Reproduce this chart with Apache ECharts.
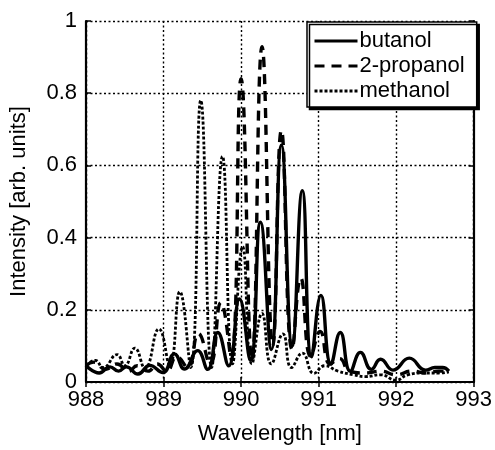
<!DOCTYPE html>
<html><head><meta charset="utf-8">
<script src="https://cdn.jsdelivr.net/npm/echarts@6/dist/echarts.min.js"></script>
<style>html,body{margin:0;padding:0;background:#fff}#c{width:495px;height:450px}</style>
</head><body><div id="c"></div>
<script>
const seriesNames = ['butanol', '2-propanol', 'methanol'];
const xTicks = [988, 989, 990, 991, 992, 993];
const yTicks = [0, 0.2, 0.4, 0.6, 0.8, 1];

const butanol = [
 [988.0,0.046],[988.17,0.025],[988.31,0.042],[988.42,0.03],[988.52,0.042],[988.67,0.022],
 [988.82,0.046],[988.99,0.026],[989.14,0.078],[989.27,0.036],[989.44,0.087],[989.57,0.035],
 [989.70,0.137],[989.84,0.045],[989.98,0.23],[990.12,0.06],[990.25,0.443],[990.39,0.09],
 [990.52,0.656],[990.66,0.10],[990.79,0.53],[990.91,0.07],[991.03,0.24],[991.16,0.05],
 [991.28,0.137],[991.41,0.03],[991.54,0.082],[991.68,0.035],[991.80,0.063],[991.96,0.033],
 [992.17,0.066],[992.38,0.033],[992.5,0.04],[992.6,0.04],[992.68,0.03]
];
const propanol = [
 [988.0,0.045],[988.1,0.055],[988.25,0.035],[988.4,0.05],[988.55,0.03],[988.66,0.045],
 [988.8,0.03],[988.92,0.05],[989.04,0.03],[989.17,0.07],[989.31,0.04],[989.45,0.134],
 [989.6,0.05],[989.74,0.22],[989.87,0.07],[990.0,0.84],[990.14,0.06],[990.27,0.929],
 [990.41,0.10],[990.52,0.697],[990.66,0.09],[990.77,0.288],[990.9,0.07],[991.02,0.14],
 [991.15,0.05],[991.27,0.065],[991.4,0.03],[991.6,0.025],[991.8,0.03],[992.0,0.02],
 [992.2,0.03],[992.4,0.025],[992.55,0.03],[992.68,0.03]
];
const methanol = [
 [988.0,0.046],[988.12,0.06],[988.22,0.04],[988.4,0.076],[988.5,0.045],[988.63,0.094],
 [988.76,0.038],[988.94,0.147],[989.08,0.046],[989.21,0.25],[989.35,0.04],[989.48,0.78],
 [989.62,0.04],[989.76,0.625],[989.89,0.05],[990.02,0.375],[990.14,0.05],[990.27,0.19],
 [990.39,0.05],[990.54,0.133],[990.65,0.04],[990.79,0.08],[990.94,0.024],[991.08,0.045],
 [991.25,0.03],[991.45,0.02],[991.6,0.015],[991.8,0.02],[992.0,0.005],[992.15,0.02],
 [992.35,0.025],[992.55,0.025],[992.68,0.028]
];

const font = '"Liberation Sans", Arial, sans-serif';
const chart = echarts.init(document.getElementById('c'), null, {renderer:'canvas'});
const gridSplit = {show:true, lineStyle:{color:'#000', type:[2,2.5], width:1.4}};
chart.setOption({
  animation:false,
  backgroundColor:'#fff',
  grid:{left:82, right:20, top:21, bottom:63},
  legend:{
    orient:'vertical', left:307, top:22, width:168,
    data:seriesNames,
    itemWidth:43, itemHeight:18, itemGap:3,
    padding:[8,12,5,6],
    itemStyle:{opacity:0},
    lineStyle:{width:3},
    backgroundColor:'#fff', borderColor:'#000', borderWidth:1.5,
    shadowColor:'#000', shadowBlur:0, shadowOffsetX:2.5, shadowOffsetY:2.5,
    textStyle:{fontFamily:font, fontSize:22, color:'#000', padding:[0,0,0,-3]}
  },
  xAxis:[{
    type:'value', min:xTicks[0], max:xTicks[xTicks.length-1], interval:1,
    name:'Wavelength [nm]', nameLocation:'middle', nameGap:41,
    nameTextStyle:{fontFamily:font, fontSize:22, color:'#000'},
    axisLine:{lineStyle:{color:'#000', width:2.2}},
    axisTick:{inside:true, length:5, lineStyle:{color:'#000', width:1.5}},
    axisLabel:{fontFamily:font, fontSize:22, color:'#000', margin:7},
    splitLine:gridSplit
  },{
    type:'value', position:'top', min:xTicks[0], max:xTicks[xTicks.length-1], interval:1,
    axisLine:{lineStyle:{color:'#000', width:2.2}},
    axisTick:{inside:true, length:5, lineStyle:{color:'#000', width:1.5}},
    axisLabel:{show:false}, splitLine:{show:false}
  }],
  yAxis:[{
    type:'value', min:0, max:1, interval:0.2,
    name:'Intensity [arb. units]', nameLocation:'middle', nameGap:56,
    nameTextStyle:{fontFamily:font, fontSize:22, color:'#000'},
    axisLine:{show:true, lineStyle:{color:'#000', width:2.2}},
    axisTick:{show:true, inside:true, length:5, lineStyle:{color:'#000', width:1.5}},
    axisLabel:{fontFamily:font, fontSize:22, color:'#000', margin:9},
    splitLine:gridSplit
  },{
    type:'value', position:'right', min:0, max:1, interval:0.2,
    axisLine:{show:true, lineStyle:{color:'#000', width:2.2}},
    axisTick:{show:true, inside:true, length:5, lineStyle:{color:'#000', width:1.5}},
    axisLabel:{show:false}, splitLine:{show:false}
  }],
  series:[
    {name:seriesNames[0], type:'line', data:butanol, smooth:0.5, symbol:'none',
     lineStyle:{color:'#000', width:3.4, type:'solid'}, itemStyle:{color:'#000'}, z:3},
    {name:seriesNames[1], type:'line', data:propanol, smooth:0.5, symbol:'none',
     lineStyle:{color:'#000', width:3.4, type:[10,7]}, itemStyle:{color:'#000'}, z:2},
    {name:seriesNames[2], type:'line', data:methanol, smooth:0.5, symbol:'none',
     lineStyle:{color:'#000', width:2.8, type:[3,2]}, itemStyle:{color:'#000'}, z:1}
  ]
});
</script></body></html>
